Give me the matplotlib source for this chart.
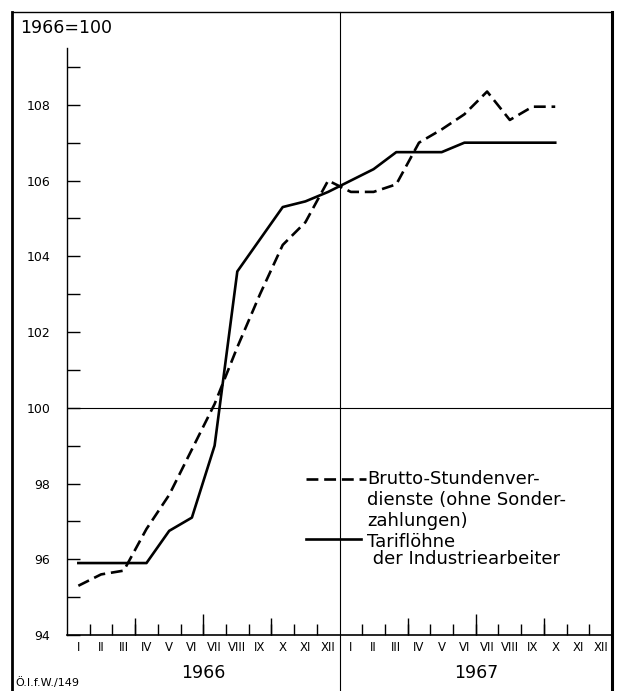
import numpy as np
import matplotlib.pyplot as plt
from matplotlib.lines import Line2D
from matplotlib.transforms import blended_transform_factory

# Monatswerte 1966 = 100 (Jänner 1966 bis Oktober 1967)
meses = ['I', 'II', 'III', 'IV', 'V', 'VI', 'VII', 'VIII', 'IX', 'X', 'XI', 'XII'] * 2
anos = ['1966', '1967']
brutto = [95.3, 95.6, 95.7, 96.8, 97.7, 98.9, 100.1, 101.6, 103.0, 104.3, 104.9, 106.0,
          105.7, 105.7, 105.9, 107.0, 107.35, 107.75, 108.35, 107.6, 107.95, 107.95]
tarif = [95.9, 95.9, 95.9, 95.9, 96.75, 97.1, 99.0, 103.6, 104.45, 105.3, 105.45, 105.7,
         106.0, 106.3, 106.75, 106.75, 106.75, 107.0, 107.0, 107.0, 107.0, 107.0]
legenda_brutto = ['Brutto-Stundenver-', 'dienste (ohne Sonder-', 'zahlungen)']
legenda_tarif = ['Tariflöhne', ' der Industriearbeiter']

W, H = 619, 691
fig = plt.figure(figsize=(W / 100, H / 100), dpi=100)
ax = fig.add_axes([67 / W, (H - 635) / H, (612 - 67) / W, (635 - 48) / H])

x = np.arange(len(brutto)) + 0.5
ax.plot(x, brutto, color='black', lw=1.9, linestyle=(0, (4.5, 2.2)))
ax.plot(x, tarif, color='black', lw=1.9)

ax.set_xlim(0, 24)
ax.set_ylim(94, 109.5)
ax.axhline(100, color='black', lw=0.8)
# Trennlinie zwischen den Jahren, geht ueber den ganzen Rahmen
ax.axvline(12, ymin=-56 / 587, ymax=(635 - 12) / 587, color='black', lw=0.8, clip_on=False)

for lado in ['top', 'right']:
    ax.spines[lado].set_visible(False)
ax.spines['left'].set_linewidth(1.0)
ax.spines['bottom'].set_linewidth(1.2)

ax.set_yticks(range(94, 109, 2))
ax.set_yticks(range(95, 110, 2), minor=True)
ax.tick_params(axis='y', which='both', direction='in', length=9, width=1, pad=12, labelsize=9)

limites = [m for m in range(1, 24) if m != 12]
ax.set_xticks(limites)
ax.set_xticklabels([])
ax.set_xticks(np.arange(24) + 0.5, minor=True)
ax.set_xticklabels(meses, minor=True)
ax.tick_params(axis='x', which='major', direction='in', length=8, width=1)
ax.tick_params(axis='x', which='minor', length=0, pad=4, labelsize=8.5)

# laengere Striche fuer Quartale und Halbjahre
for pos, comp in [([3, 9, 15, 21], 12), ([6, 18], 15)]:
    sec = ax.secondary_xaxis('bottom')
    sec.set_xticks(pos)
    sec.tick_params(direction='in', length=comp, width=1, labelbottom=False)
    sec.spines['bottom'].set_visible(False)

trans = blended_transform_factory(ax.transData, ax.transAxes)
for i, ano in enumerate(anos):
    ax.text(6 + 12 * i, -0.065, ano, transform=trans, ha='center', va='center', fontsize=12.5)

# Legende
ax.plot([0.438, 0.549], [0.2658, 0.2658], transform=ax.transAxes, color='black', lw=1.9,
        linestyle=(0, (4.5, 2.2)), clip_on=False)
ax.plot([0.438, 0.540], [0.1635, 0.1635], transform=ax.transAxes, color='black', lw=1.9, clip_on=False)
for i, linha in enumerate(legenda_brutto):
    ax.text(0.551, 0.2658 - i * 0.0355, linha, transform=ax.transAxes, va='center', fontsize=13)
for i, linha in enumerate(legenda_tarif):
    ax.text(0.551, 0.158 - i * 0.028, linha, transform=ax.transAxes, va='center', fontsize=13)

# Rahmen
fig.add_artist(Line2D([12 / W, 12 / W], [0, (H - 12) / H], color='black', lw=2))
fig.add_artist(Line2D([12 / W, 612 / W], [(H - 12) / H, (H - 12) / H], color='black', lw=1))
fig.add_artist(Line2D([612 / W, 612 / W], [0, (H - 12) / H], color='black', lw=2.2))

fig.text(20 / W, (H - 28) / H, '1966=100', va='center', fontsize=12.5)
fig.text(15 / W, (H - 683) / H, 'Ö.I.f.W./149', va='center', fontsize=8)

plt.savefig('out.png', dpi=100)
